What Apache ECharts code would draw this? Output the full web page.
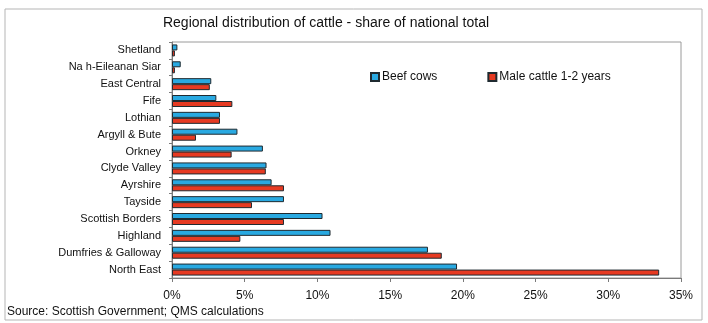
<!DOCTYPE html>
<html>
<head>
<meta charset="utf-8">
<script src="https://cdn.jsdelivr.net/npm/echarts@6/dist/echarts.min.js"></script>
<style>
  html, body { margin: 0; padding: 0; background: #fff; }
  #chart { width: 708px; height: 323px; }
</style>
</head>
<body>
<div id="chart"></div>
<script>
// 地区（从上到下）
const regions = [
  'Shetland', 'Na h-Eileanan Siar', 'East Central', 'Fife', 'Lothian',
  'Argyll & Bute', 'Orkney', 'Clyde Valley', 'Ayrshire', 'Tayside',
  'Scottish Borders', 'Highland', 'Dumfries & Galloway', 'North East'
];
// 各地区占全国比例（%）
const beefCows = [0.37, 0.6, 2.7, 3.05, 3.3, 4.5, 6.25, 6.5, 6.85, 7.7, 10.35, 10.9, 17.6, 19.6];
const maleCattle = [0.2, 0.2, 2.6, 4.15, 3.3, 1.65, 4.1, 6.45, 7.7, 5.5, 7.7, 4.7, 18.55, 33.5];
const xTicks = [0, 5, 10, 15, 20, 25, 30, 35];

const chart = echarts.init(document.getElementById('chart'));

const barBorder = { borderColor: '#1f2a30', borderWidth: 1 };

chart.setOption({
  animation: false,
  textStyle: { fontFamily: 'Liberation Sans' },
  title: {
    text: 'Regional distribution of cattle - share of national total',
    left: 321,
    textAlign: 'center',
    top: 11,
    textStyle: { fontSize: 14, fontWeight: 'normal', color: '#111', fontFamily: 'Liberation Sans' }
  },
  legend: {
    left: 365,
    top: 66,
    itemWidth: 8,
    itemHeight: 8,
    itemGap: 50,
    icon: 'rect',
    textStyle: { fontSize: 12, color: '#111', padding: [0, 0, 0, -2] },
    data: ['Beef cows', 'Male cattle 1-2 years']
  },
  graphic: [
    {
      type: 'rect',
      shape: { x: 5, y: 9, width: 697, height: 311 },
      style: { fill: 'none', stroke: '#b5b5b5', lineWidth: 1 },
      silent: true
    },
    {
      type: 'text',
      left: 7,
      top: 306,
      style: { text: 'Source: Scottish Government; QMS calculations', fontSize: 12, fill: '#111', fontFamily: 'Liberation Sans' }
    }
  ],
  grid: {
    left: 172,
    right: 27,
    top: 42,
    bottom: 45,
    show: true,
    borderColor: '#9a9a9a',
    borderWidth: 1
  },
  xAxis: {
    type: 'value',
    min: 0,
    max: 35,
    interval: 5,
    axisLine: { show: true, lineStyle: { color: '#7a7a7a' } },
    axisTick: { show: true, length: 4, lineStyle: { color: '#7a7a7a' } },
    splitLine: { show: false },
    axisLabel: {
      fontSize: 12,
      color: '#111',
      margin: 12,
      formatter: v => xTicks.includes(v) ? v + '%' : ''
    }
  },
  yAxis: {
    type: 'category',
    inverse: true,
    data: regions,
    axisLine: { show: true, lineStyle: { color: '#7a7a7a' } },
    axisTick: { show: true, length: 3, lineStyle: { color: '#7a7a7a' } },
    axisLabel: { fontSize: 11, color: '#111', margin: 11 }
  },
  series: [
    {
      name: 'Beef cows',
      type: 'bar',
      data: beefCows,
      barWidth: 6,
      barGap: '0%',
      itemStyle: Object.assign({ color: '#29a9e1' }, barBorder)
    },
    {
      name: 'Male cattle 1-2 years',
      type: 'bar',
      data: maleCattle,
      barWidth: 6,
      itemStyle: Object.assign({ color: '#e63a22' }, barBorder)
    }
  ]
});

window.addEventListener('resize', () => chart && chart.resize());
</script>
</body>
</html>
